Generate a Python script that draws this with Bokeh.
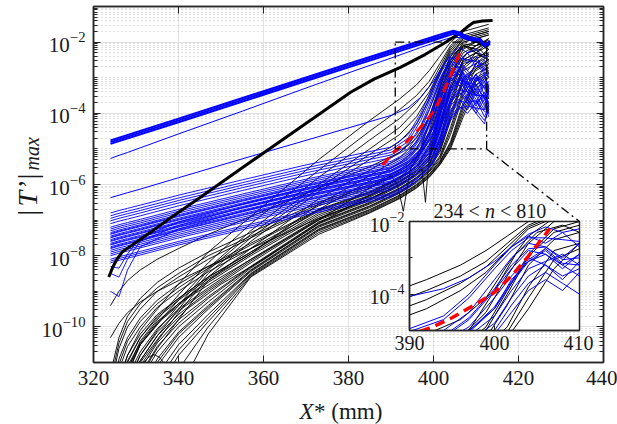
import numpy as np
from bokeh.plotting import figure
from bokeh.models import FixedTicker, Label, Range1d, LinearAxis, LogAxis, CustomJSTickFormatter
from bokeh.layouts import column
from bokeh.embed import file_html
from bokeh.resources import INLINE

SERIF = "Liberation Serif"
AX = "#262626"
TXT = "#1a1a1a"

# ---------------- data (log10 of |T'|max) ----------------
black_x = [324, 326, 328, 331, 335, 340, 347, 357, 373, 385, 392, 396, 399, 401.5, 404, 407, 410, 413]
black_lower_exp = [
    [-11.3, -10.3, -9.7, -9.2, -8.75, -8.35, -7.9, -7.35, -6.5, -6.0, -5.6, -5.2, -4.5, -3.5, -2.6, -2.0, -1.9, -1.8],
    [-11.7, -10.6, -10.0, -9.5, -9.0, -8.6, -8.1, -7.5, -6.6, -6.1, -5.7, -5.35, -4.7, -3.7, -2.8, -2.1, -2.3, -2.0],
    [-12.1, -10.9, -10.3, -9.75, -9.25, -8.8, -8.3, -7.65, -6.7, -6.2, -5.8, -5.5, -4.9, -3.9, -2.9, -2.2, -2.0, -2.2],
    [-12.5, -11.2, -10.55, -10.0, -9.45, -9.0, -8.45, -7.8, -6.75, -6.25, -5.85, -5.55, -5.1, -4.1, -3.0, -2.4, -2.1, -1.9],
    [-13.0, -11.5, -10.8, -10.2, -9.65, -9.2, -8.6, -7.9, -6.8, -6.3, -5.9, -5.6, -5.2, -4.3, -3.2, -2.5, -2.3, -2.4],
    [-13.5, -11.9, -11.1, -10.45, -9.85, -9.35, -8.75, -8.0, -6.9, -6.35, -5.95, -5.65, -5.3, -4.5, -3.4, -2.6, -2.5, -2.2],
    [-14.0, -12.3, -11.4, -10.7, -10.05, -9.5, -8.9, -8.1, -6.95, -6.4, -6.0, -5.7, -5.4, -4.7, -3.6, -2.7, -2.3, -2.5],
    [-14.5, -12.7, -11.7, -10.95, -10.25, -9.65, -9.0, -8.2, -7.0, -6.45, -6.05, -5.75, -5.45, -4.9, -3.8, -2.8, -2.6, -2.3],
    [-15.0, -13.1, -12.0, -11.2, -10.45, -9.8, -9.15, -8.3, -7.05, -6.5, -6.1, -5.8, -5.5, -5.0, -4.0, -3.0, -2.7, -2.5],
    [-15.5, -13.6, -12.4, -11.5, -10.7, -10.0, -9.3, -8.35, -7.1, -6.55, -6.15, -5.85, -5.55, -5.1, -4.2, -3.1, -2.8, -2.6],
    [-16.0, -14.0, -12.8, -11.8, -10.9, -10.15, -9.4, -8.4, -7.15, -6.6, -6.2, -5.9, -5.6, -5.2, -4.4, -3.3, -2.6, -2.4],
    [-16.5, -14.5, -13.2, -12.1, -11.1, -10.3, -9.5, -8.45, -7.2, -6.65, -6.25, -5.95, -5.65, -5.3, -4.6, -3.5, -2.9, -2.7],
    [-17.0, -15.0, -13.6, -12.4, -11.35, -10.5, -9.65, -8.5, -7.25, -6.7, -6.3, -6.0, -5.7, -5.35, -4.8, -3.7, -3.0, -2.8],
    [-18.0, -16.0, -14.5, -13.0, -11.8, -10.8, -9.85, -8.55, -7.3, -6.75, -6.35, -6.05, -5.75, -5.4, -4.9, -3.9, -3.1, -2.9],
    [-20.0, -19.0, -18.0, -17.0, -15.0, -11.8, -10.2, -8.6, -7.4, -6.8, -6.4, -6.1, -5.8, -5.45, -5.0, -4.1, -3.3, -3.0],
    [-11.5, -10.45, -9.85, -9.35, -8.9, -8.5, -8.0, -7.45, -6.55, -6.05, -5.65, -5.3, -4.6, -3.6, -2.7, -2.1, -2.2, -1.9],
    [-12.3, -11.05, -10.4, -9.85, -9.35, -8.9, -8.35, -7.7, -6.72, -6.22, -5.82, -5.5, -5.0, -4.0, -2.95, -2.3, -2.1, -2.0],
    [-13.2, -11.7, -10.95, -10.3, -9.75, -9.25, -8.65, -7.95, -6.85, -6.32, -5.92, -5.62, -5.25, -4.4, -3.3, -2.55, -2.4, -2.3],
    [-14.2, -12.5, -11.55, -10.8, -10.15, -9.55, -8.95, -8.15, -6.97, -6.42, -6.02, -5.72, -5.42, -4.8, -3.7, -2.75, -2.45, -2.35],
    [-15.2, -13.3, -12.2, -11.35, -10.55, -9.9, -9.2, -8.32, -7.07, -6.52, -6.12, -5.82, -5.52, -5.05, -4.1, -3.05, -2.75, -2.55],
    [-16.2, -14.2, -13.0, -11.95, -11.0, -10.2, -9.45, -8.42, -7.17, -6.62, -6.22, -5.92, -5.62, -5.25, -4.5, -3.4, -2.75, -2.5],
    [-17.5, -15.5, -14.0, -12.7, -11.55, -10.65, -9.75, -8.52, -7.27, -6.72, -6.32, -6.02, -5.72, -5.37, -4.85, -3.8, -3.05, -2.85],
    [-19.0, -17.5, -16.0, -14.5, -12.5, -11.2, -10.0, -8.58, -7.35, -6.78, -6.38, -6.08, -5.78, -5.43, -4.95, -4.0, -3.2, -2.95],
    [-9.4, -9.0, -8.7, -8.4, -8.1, -7.8, -7.4, -6.9, -6.1, -5.5, -5.1, -4.7, -4.1, -3.2, -2.4, -1.9, -1.8, -1.7],
    [-10.3, -9.9, -9.6, -9.3, -9.0, -8.7, -8.3, -7.8, -6.95, -6.4, -6.0, -5.7, -5.3, -4.4, -3.3, -2.5, -2.3, -2.1],
]
black_upper_exp = [
    [-12.5, -11.5, -10.8, -10.1, -9.5, -8.8, -7.9, -6.9, -5.3, -4.2, -3.6, -3.2, -2.8, -2.4, -2.0, -1.7, -1.6, -1.5],
    [-13.0, -12.0, -11.2, -10.4, -9.8, -9.1, -8.2, -7.1, -5.6, -4.5, -3.9, -3.5, -3.1, -2.6, -2.1, -1.8, -1.7, -1.6],
    [-13.4, -12.4, -11.6, -10.8, -10.1, -9.4, -8.4, -7.4, -6.0, -5.0, -4.4, -3.9, -3.4, -2.8, -2.2, -1.9, -1.8, -1.7],
    [-13.8, -12.8, -12.0, -11.1, -10.4, -9.6, -8.6, -7.6, -6.2, -5.3, -4.8, -4.3, -3.6, -2.9, -2.3, -2.0, -1.9, -1.8],
    [-14.2, -13.2, -12.3, -11.4, -10.6, -9.8, -8.7, -7.8, -6.4, -5.6, -5.1, -4.6, -3.9, -3.1, -2.4, -2.1, -2.0, -2.1],
    [-12.8, -11.8, -11.0, -10.3, -9.7, -9.2, -8.6, -7.9, -6.7, -5.9, -5.4, -5.0, -4.3, -3.4, -2.6, -2.1, -2.2, -2.0],
    [-13.1, -12.1, -11.3, -10.5, -9.9, -9.25, -8.35, -7.3, -5.8, -4.75, -4.15, -3.7, -3.25, -2.7, -2.15, -1.85, -1.75, -1.65],
    [-13.6, -12.6, -11.8, -10.95, -10.25, -9.5, -8.5, -7.5, -6.1, -5.15, -4.6, -4.1, -3.5, -2.85, -2.25, -1.95, -1.85, -1.75],
    [-13.0, -12.0, -11.2, -10.5, -9.9, -9.35, -8.7, -7.95, -6.55, -5.75, -5.25, -4.8, -4.1, -3.3, -2.5, -2.05, -2.1, -1.95],
]
dip_a_x = [324, 327, 331, 336, 342, 350, 360, 373, 385, 390, 391.5, 392.9, 394.5, 397, 400, 402.5, 405, 408, 411, 413]
dip_a_exp = [-13.2, -11.6, -10.5, -9.8, -9.2, -8.6, -7.9, -7.0, -6.1, -5.75, -6.0, -6.75, -5.6, -5.0, -3.9, -2.9, -2.3, -2.1, -2.4, -2.2]
dip_b_x = [324, 327, 331, 336, 342, 350, 360, 373, 385, 392, 396, 397.3, 398.1, 399, 401, 403, 405.5, 408, 411, 413]
dip_b_exp = [-14.0, -12.2, -11.0, -10.2, -9.5, -8.8, -8.1, -7.1, -6.3, -5.8, -5.4, -5.6, -6.5, -5.2, -4.3, -3.3, -2.6, -2.3, -2.2, -2.5]
arc_x = [330.5, 331.8, 333, 334.2, 335.5, 336.5, 337.5]
arc_exp = [-11.3, -11.0, -10.85, -10.78, -10.85, -11.0, -11.3]

blue_x = [324, 326, 328, 331, 340, 355, 370, 382, 390, 394, 397, 400, 402, 404, 406, 408, 410, 412, 413]
blue_band_exp = [
    [-6.8, -6.73, -6.67, -6.58, -6.3, -5.87, -5.45, -5.15, -4.95, -4.6, -4.0, -3.2, -2.7, -2.4, -2.6, -2.3, -2.7, -2.5, -2.9],
    [-6.95, -6.88, -6.82, -6.73, -6.45, -6.02, -5.6, -5.3, -5.1, -4.8, -4.2, -3.4, -2.9, -2.5, -2.3, -2.6, -2.4, -2.8, -2.6],
    [-7.1, -7.03, -6.97, -6.88, -6.6, -6.17, -5.75, -5.45, -5.25, -5.0, -4.5, -3.6, -3.0, -2.6, -2.7, -3.0, -2.6, -2.9, -3.3],
    [-7.2, -7.13, -7.07, -6.98, -6.7, -6.27, -5.85, -5.55, -5.35, -5.1, -4.6, -3.8, -3.1, -2.7, -2.5, -2.8, -3.1, -2.7, -3.0],
    [-7.3, -7.23, -7.17, -7.08, -6.8, -6.37, -5.95, -5.65, -5.45, -5.2, -4.7, -3.9, -3.3, -2.8, -2.9, -3.3, -2.9, -3.5, -3.8],
    [-7.35, -7.28, -7.22, -7.13, -6.85, -6.42, -6.0, -5.7, -5.5, -5.25, -4.8, -4.0, -3.4, -2.9, -2.6, -2.9, -3.4, -3.0, -3.2],
    [-7.4, -7.33, -7.27, -7.18, -6.9, -6.47, -6.05, -5.75, -5.55, -5.3, -4.9, -4.1, -3.5, -3.0, -3.2, -3.6, -3.1, -2.9, -3.4],
    [-7.45, -7.38, -7.32, -7.23, -6.95, -6.52, -6.1, -5.8, -5.6, -5.35, -5.0, -4.3, -3.6, -3.0, -2.7, -3.1, -3.5, -3.9, -3.3],
    [-7.5, -7.43, -7.37, -7.28, -7.0, -6.57, -6.15, -5.85, -5.65, -5.4, -5.05, -4.4, -3.7, -3.1, -2.8, -3.2, -2.9, -3.3, -3.1],
    [-7.55, -7.48, -7.42, -7.33, -7.05, -6.62, -6.2, -5.9, -5.7, -5.45, -5.1, -4.5, -3.8, -3.2, -3.0, -3.4, -3.8, -3.4, -3.7],
    [-7.6, -7.53, -7.47, -7.38, -7.1, -6.67, -6.25, -5.95, -5.75, -5.5, -5.15, -4.6, -3.9, -3.3, -3.1, -2.9, -3.2, -3.6, -3.4],
    [-7.65, -7.58, -7.52, -7.43, -7.15, -6.72, -6.3, -6.0, -5.8, -5.55, -5.2, -4.7, -4.0, -3.4, -3.0, -3.3, -3.7, -3.2, -3.5],
    [-7.7, -7.63, -7.57, -7.48, -7.2, -6.77, -6.35, -6.05, -5.85, -5.6, -5.3, -4.8, -4.1, -3.5, -3.2, -3.5, -3.3, -3.8, -4.0],
    [-7.75, -7.68, -7.62, -7.53, -7.25, -6.82, -6.4, -6.1, -5.9, -5.65, -5.35, -4.9, -4.2, -3.6, -3.3, -3.1, -3.5, -3.2, -3.6],
    [-7.8, -7.73, -7.67, -7.58, -7.3, -6.87, -6.45, -6.15, -5.95, -5.7, -5.4, -5.0, -4.3, -3.7, -3.4, -3.7, -4.0, -3.6, -3.9],
    [-7.85, -7.78, -7.72, -7.63, -7.35, -6.92, -6.5, -6.2, -6.0, -5.75, -5.45, -5.05, -4.4, -3.8, -3.5, -3.3, -3.6, -4.1, -3.8],
    [-7.9, -7.83, -7.77, -7.68, -7.4, -6.97, -6.55, -6.25, -6.05, -5.8, -5.5, -5.1, -4.5, -3.9, -3.6, -3.9, -3.4, -3.7, -4.1],
    [-8.0, -7.93, -7.87, -7.78, -7.5, -7.07, -6.65, -6.35, -6.15, -5.9, -5.6, -5.2, -4.6, -4.0, -3.7, -3.5, -3.9, -4.2, -3.9],
    [-8.1, -8.03, -7.97, -7.88, -7.6, -7.17, -6.75, -6.45, -6.25, -6.0, -5.7, -5.3, -4.7, -4.1, -3.8, -4.0, -3.7, -3.5, -4.0],
    [-8.2, -8.13, -8.07, -7.98, -7.7, -7.27, -6.85, -6.55, -6.35, -6.1, -5.8, -5.4, -4.8, -4.2, -3.9, -3.6, -4.0, -4.3, -3.8],
    [-9.0, -9.15, -8.4, -7.75, -7.25, -6.75, -6.3, -6.0, -5.8, -5.55, -5.25, -4.85, -4.3, -3.7, -3.4, -3.6, -3.9, -3.5, -3.8],
    [-8.5, -8.6, -8.1, -7.6, -7.15, -6.65, -6.2, -5.9, -5.7, -5.45, -5.1, -4.6, -3.9, -3.4, -3.1, -3.4, -3.0, -3.3, -3.6],
    [-8.3, -8.35, -7.95, -7.5, -7.05, -6.55, -6.1, -5.8, -5.6, -5.35, -5.0, -4.4, -3.6, -3.1, -2.9, -3.2, -3.5, -3.1, -3.4],
    [-6.88, -6.81, -6.75, -6.66, -6.38, -5.95, -5.53, -5.23, -5.03, -4.7, -4.1, -3.3, -2.8, -2.45, -2.45, -2.5, -2.55, -2.65, -2.75],
    [-7.02, -6.95, -6.89, -6.8, -6.52, -6.09, -5.67, -5.37, -5.17, -4.9, -4.35, -3.5, -2.95, -2.55, -2.6, -2.8, -2.5, -2.85, -3.0],
    [-7.25, -7.18, -7.12, -7.03, -6.75, -6.32, -5.9, -5.6, -5.4, -5.15, -4.65, -3.85, -3.2, -2.75, -2.7, -3.05, -3.0, -3.1, -3.5],
    [-7.38, -7.31, -7.25, -7.16, -6.88, -6.45, -6.03, -5.73, -5.53, -5.28, -4.85, -4.05, -3.45, -2.95, -2.9, -3.25, -3.25, -2.95, -3.3],
    [-7.48, -7.41, -7.35, -7.26, -6.98, -6.55, -6.13, -5.83, -5.63, -5.38, -5.02, -4.35, -3.65, -3.05, -2.75, -3.15, -3.2, -3.6, -3.2],
    [-7.58, -7.51, -7.45, -7.36, -7.08, -6.65, -6.23, -5.93, -5.73, -5.48, -5.12, -4.55, -3.85, -3.25, -3.05, -3.15, -3.5, -3.5, -3.55],
    [-7.68, -7.61, -7.55, -7.46, -7.18, -6.75, -6.33, -6.03, -5.83, -5.58, -5.25, -4.75, -4.05, -3.45, -3.1, -3.4, -3.5, -3.5, -3.75],
    [-7.78, -7.71, -7.65, -7.56, -7.28, -6.85, -6.43, -6.13, -5.93, -5.68, -5.38, -4.95, -4.25, -3.65, -3.35, -3.4, -3.75, -3.4, -3.75],
    [-7.95, -7.88, -7.82, -7.73, -7.45, -7.02, -6.6, -6.3, -6.1, -5.85, -5.55, -5.15, -4.55, -3.95, -3.65, -3.7, -3.65, -3.95, -4.0],
    [-8.15, -8.08, -8.02, -7.93, -7.65, -7.22, -6.8, -6.5, -6.3, -6.05, -5.75, -5.35, -4.75, -4.15, -3.85, -3.8, -3.85, -3.9, -3.9],
]
blue_upper_exp = [
    [-5.27, -5.18, -5.1, -4.97, -4.58, -3.94, -3.29, -2.78, -2.45, -2.28, -2.15, -2.03, -1.95, -1.88, -1.87, -1.92, -1.97, -2.02, -2.1],
    [-6.37, -6.3, -6.23, -6.13, -5.81, -5.28, -4.76, -4.34, -4.06, -3.85, -3.55, -3.1, -2.7, -2.35, -2.15, -2.3, -2.2, -2.45, -2.35],
]
thick_blue_x = [324, 340, 360, 380, 395, 402, 404.7, 406, 407.5, 409, 411, 412.3, 413.3]
thick_blue_exp = [
    [-4.76, -4.15, -3.38, -2.61, -2.04, -1.77, -1.68, -1.72, -1.82, -1.88, -1.91, -2.08, -1.96],
    [-4.81, -4.2, -3.43, -2.66, -2.09, -1.82, -1.72, -1.76, -1.86, -1.92, -1.95, -2.12, -2.0],
    [-4.86, -4.25, -3.48, -2.71, -2.14, -1.87, -1.77, -1.8, -1.9, -1.96, -1.99, -2.16, -2.04],
]
thick_black_x = [323.6, 324.5, 325.5, 326.8, 329, 332, 337.4, 345, 355, 368.7, 380.5, 386, 392.2, 398, 402.4, 404.5, 406.4, 408, 409.4, 411.5, 413.9]
thick_black_exp = [-8.6, -8.33, -8.1, -7.89, -7.71, -7.46, -7.0, -6.37, -5.53, -4.39, -3.41, -3.04, -2.71, -2.35, -2.04, -1.88, -1.73, -1.57, -1.45, -1.41, -1.39]
red_x = [388, 391, 393, 395, 398, 400, 402, 404, 406.5]
red_exp = [-5.45, -5.05, -4.87, -4.65, -4.25, -3.95, -3.5, -2.95, -2.2]

inset_black_lower = [0, 2, 4, 7, 10, 16, 19, 23]
inset_black_upper = [0, 1, 2, 6]
inset_blue = [0, 2, 4, 6, 8, 10, 12, 14, 16, 22, 23, 25, 27]

x_ticks = [320, 340, 360, 380, 400, 420, 440]
y_ticks = [1e-10, 1e-8, 1e-6, 1e-4, 1e-2]
zoom_box_x = [391, 412.5, 412.5, 391, 391]
zoom_box_y = [1e-2, 1e-2, 1e-5, 1e-5, 1e-2]


def vals(e):
    return [10.0 ** v for v in e]


y_minor = [m * 10.0 ** k for k in range(-11, -1) for m in range(1, 10) if not (m == 1 and k % 2 == 0)]
yt = FixedTicker(ticks=y_ticks, minor_ticks=y_minor)
xt = FixedTicker(ticks=x_ticks, minor_ticks=[])
blank = CustomJSTickFormatter(code="return ''")

p = figure(width=617, height=424, x_range=Range1d(320, 440), y_range=Range1d(1e-11, 1e-1),
           y_axis_type="log", output_backend="svg", toolbar_location=None,
           min_border_left=93, min_border_right=14, min_border_top=6, min_border_bottom=62,
           background_fill_color="white", border_fill_color="white")
p.frame_align = False
p.outline_line_color = AX
p.outline_line_width = 1.5

# grid
p.xgrid.ticker = FixedTicker(ticks=[340, 360, 380, 400, 420], minor_ticks=[])
p.xgrid.grid_line_color = "#e2e2e2"
p.ygrid.ticker = yt
p.ygrid.grid_line_color = "#e2e2e2"
p.ygrid.minor_grid_line_color = "#c2c2c2"
p.ygrid.minor_grid_line_dash = "1 3"

for ax in (p.xaxis[0], p.yaxis[0]):
    ax.major_label_text_font = SERIF
    ax.major_label_text_font_size = "21px"
    ax.major_label_text_color = TXT
    ax.axis_line_color = AX
    ax.axis_line_width = 1.5
    ax.major_tick_line_color = AX
    ax.minor_tick_line_color = AX
    ax.major_tick_in = 7
    ax.major_tick_out = 0
    ax.minor_tick_in = 4
    ax.minor_tick_out = 0
p.xaxis[0].ticker = xt
p.xaxis[0].major_label_standoff = 8
p.yaxis[0].ticker = yt
p.yaxis[0].major_label_standoff = 8

right = LogAxis(ticker=yt, formatter=blank, major_label_text_font_size="2px", major_label_standoff=0,
                major_tick_in=7, major_tick_out=0, minor_tick_in=4, minor_tick_out=0,
                axis_line_color=AX, axis_line_width=1.5, major_tick_line_color=AX, minor_tick_line_color=AX)
p.add_layout(right, "right")
top = LinearAxis(ticker=xt, formatter=blank, major_label_text_font_size="2px", major_label_standoff=0,
                 major_tick_in=7, major_tick_out=0, minor_tick_in=0, minor_tick_out=0,
                 axis_line_color=AX, axis_line_width=1.5, major_tick_line_color=AX)
p.add_layout(top, "above")

# data lines
p.multi_line(xs=[black_x] * len(black_lower_exp), ys=[vals(e) for e in black_lower_exp], line_color="black", line_width=0.9)
p.multi_line(xs=[black_x] * len(black_upper_exp), ys=[vals(e) for e in black_upper_exp], line_color="black", line_width=0.9)
p.line(dip_a_x, vals(dip_a_exp), line_color="black", line_width=0.9)
p.line(dip_b_x, vals(dip_b_exp), line_color="black", line_width=0.9)
p.line(arc_x, vals(arc_exp), line_color="black", line_width=0.9)
p.multi_line(xs=[blue_x] * len(blue_band_exp), ys=[vals(e) for e in blue_band_exp], line_color="#0000ff", line_width=0.9)
p.multi_line(xs=[blue_x] * len(blue_upper_exp), ys=[vals(e) for e in blue_upper_exp], line_color="#0000ff", line_width=1.0)
p.line(thick_black_x, vals(thick_black_exp), line_color="black", line_width=3)
p.multi_line(xs=[thick_blue_x] * 3, ys=[vals(e) for e in thick_blue_exp], line_color="#0000ff", line_width=2)
p.line(red_x, vals(red_exp), line_color="#ff0000", line_width=3, line_dash="10 6")

# zoom box and connector
p.line(zoom_box_x, zoom_box_y, line_color="black", line_width=1.3, line_dash="9 4 2 4")
p.line([412.5, 434.35], [1e-5, 10 ** -7.04], line_color="black", line_width=1.3, line_dash="9 4 2 4")

# ---------------- inset ----------------
pi = figure(width=234, height=159, x_range=Range1d(390, 410), y_range=Range1d(1e-5, 1e-2),
            y_axis_type="log", output_backend="svg", toolbar_location=None,
            min_border_left=50, min_border_right=14, min_border_top=10, min_border_bottom=40,
            background_fill_color="white", border_fill_color=None)
pi.frame_align = False
pi.outline_line_color = AX
pi.outline_line_width = 1.5
pi.grid.visible = False
pi.xaxis[0].ticker = FixedTicker(ticks=[390, 400, 410], minor_ticks=[])
pi.yaxis[0].ticker = FixedTicker(ticks=[1e-4, 1e-2], minor_ticks=[1e-5, 1e-3])
for ax in (pi.xaxis[0], pi.yaxis[0]):
    ax.major_label_text_font = SERIF
    ax.major_label_text_font_size = "20px"
    ax.major_label_text_color = TXT
    ax.axis_line_color = AX
    ax.axis_line_width = 1.5
    ax.major_tick_line_color = AX
    ax.minor_tick_line_color = AX
    ax.major_tick_in = 5
    ax.major_tick_out = 0
    ax.minor_tick_in = 3
    ax.minor_tick_out = 0
pi.xaxis[0].major_label_standoff = 5
pi.yaxis[0].major_label_standoff = 5

pi.multi_line(xs=[black_x] * len(inset_black_lower), ys=[vals(black_lower_exp[i]) for i in inset_black_lower],
              line_color="black", line_width=1)
pi.multi_line(xs=[black_x] * len(inset_black_upper), ys=[vals(black_upper_exp[i]) for i in inset_black_upper],
              line_color="black", line_width=1)
pi.line(dip_a_x, vals(dip_a_exp), line_color="black", line_width=1)
pi.multi_line(xs=[blue_x] * len(inset_blue), ys=[vals(blue_band_exp[i]) for i in inset_blue],
              line_color="#0000ff", line_width=1)
pi.line(blue_x, vals(blue_upper_exp[1]), line_color="#0000ff", line_width=1)
pi.line(red_x, vals(red_exp), line_color="#ff0000", line_width=3.5, line_dash="10 6")
pi.margin = (-213, 0, 0, 359)

# ---------------- transparent text overlay (pixel coordinates, y down) ----------------
ov = figure(width=617, height=424, x_range=Range1d(0, 617), y_range=Range1d(424, 0),
            output_backend="svg", toolbar_location=None, x_axis_location=None, y_axis_location=None,
            min_border=0, background_fill_color=None, border_fill_color=None, outline_line_color=None)
ov.frame_align = False
ov.grid.visible = False
ov.margin = (-370, 0, 0, 0)


def lab(x, y, text, size, style="normal", angle=0):
    ov.add_layout(Label(x=x, y=y, text=text, text_font=SERIF, text_font_size=size, text_font_style=style,
                        angle=angle, text_align="left", text_baseline="alphabetic", text_color=TXT))


lab(299, 411, "X", "23px", "italic")
lab(313.5, 411, "*\u00a0(mm)", "23px")

a = np.pi / 2
lab(27, 215, "|", "28px", angle=a)
lab(27, 206, "T", "28px", "italic", angle=a)
lab(27, 188, "’|", "28px", angle=a)
lab(31, 170, "max", "20px", "italic", angle=a)

lab(433, 210, "234\u00a0<\u00a0", "20px")
lab(484.5, 210, "n", "20px", "italic")
lab(494.5, 210, "\u00a0<\u00a0810", "20px")

layout = column(p, pi, ov)
layout.margin = 0

open("out.html", "w").write(file_html(layout, INLINE))
